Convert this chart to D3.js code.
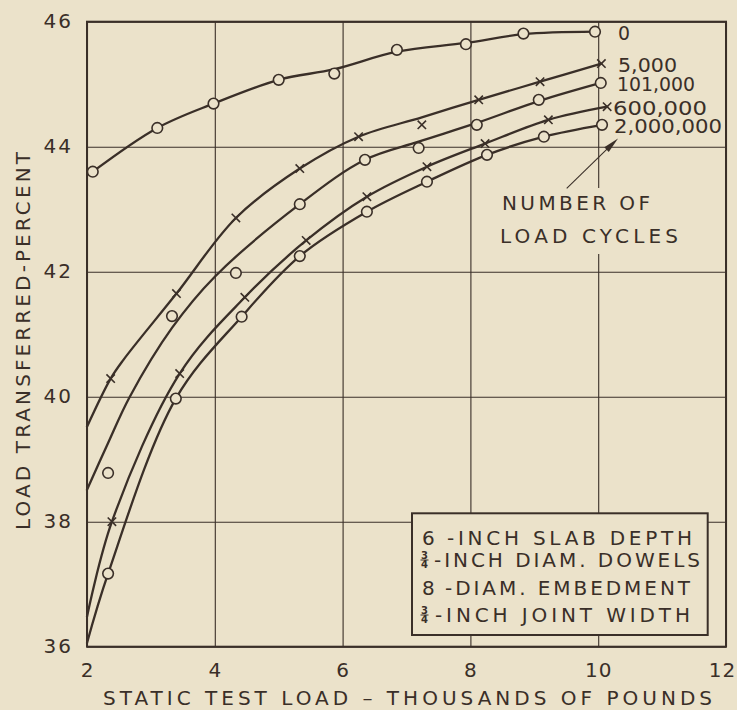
<!DOCTYPE html>
<html>
<head>
<meta charset="utf-8">
<script src="https://cdn.jsdelivr.net/npm/d3@7"></script>
<style>
  body { margin: 0; background: #ebe2ca; }
  svg { display: block; font-family: "DejaVu Sans", sans-serif; }
</style>
</head>
<body>
<script>
// Load transfer vs static test load, for each number of load cycles

var cycleLabels = ["0", "5,000", "101,000", "600,000", "2,000,000"];
var markerKinds = ["circle", "x", "circle", "x", "circle"];

// measured points (load in thousands of lb, percent transferred)
var loads0 = [2.09, 3.10, 3.98, 5.00, 5.87, 6.85, 7.93, 8.83, 9.95];
var pct0   = [43.60, 44.30, 44.69, 45.07, 45.17, 45.55, 45.64, 45.81, 45.84];
var loads1 = [2.37, 3.40, 4.33, 5.33, 6.25, 7.24, 8.13, 9.09, 10.05];
var pct1   = [40.29, 41.65, 42.86, 43.65, 44.16, 44.35, 44.75, 45.04, 45.33];
var loads2 = [2.33, 3.33, 4.33, 5.33, 6.35, 7.19, 8.10, 9.07, 10.04];
var pct2   = [38.78, 41.29, 41.98, 43.08, 43.79, 43.98, 44.35, 44.75, 45.02];
var loads3 = [2.39, 3.45, 4.47, 5.43, 6.38, 7.32, 8.23, 9.22, 10.14];
var pct3   = [38.00, 40.37, 41.59, 42.50, 43.20, 43.68, 44.05, 44.43, 44.64];
var loads4 = [2.33, 3.39, 4.42, 5.33, 6.38, 7.32, 8.26, 9.15, 10.06];
var pct4   = [37.17, 39.97, 41.28, 42.25, 42.96, 43.44, 43.87, 44.16, 44.35];

// faired curves as drawn on the sheet
var curveLoads0 = [2.09, 3.10, 3.98, 5.00, 5.87, 6.85, 7.93, 8.83, 9.95];
var curvePct0   = [43.60, 44.30, 44.69, 45.07, 45.24, 45.52, 45.66, 45.80, 45.84];
var curveLoads1 = [2.00, 2.37, 2.57, 3.40, 4.33, 5.33, 6.25, 7.24, 8.13, 9.09, 10.05];
var curvePct1   = [39.52, 40.29, 40.59, 41.65, 42.86, 43.65, 44.16, 44.47, 44.75, 45.04, 45.33];
var curveLoads2 = [2.00, 2.33, 2.67, 3.33, 4.00, 5.33, 6.35, 7.19, 8.10, 9.07, 10.04];
var curvePct2   = [38.51, 39.26, 40.00, 41.10, 41.92, 43.08, 43.79, 44.08, 44.38, 44.73, 45.02];
var curveLoads3 = [2.00, 2.39, 3.45, 4.47, 5.43, 6.38, 7.32, 8.23, 9.22, 10.14];
var curvePct3   = [36.48, 38.00, 40.37, 41.59, 42.50, 43.20, 43.68, 44.05, 44.43, 44.64];
var curveLoads4 = [2.00, 2.33, 3.39, 4.42, 5.33, 6.38, 7.32, 8.26, 9.15, 10.06];
var curvePct4   = [36.06, 37.17, 39.97, 41.28, 42.25, 42.96, 43.44, 43.87, 44.16, 44.35];

var xTicks = [2, 4, 6, 8, 10, 12];
var yTicks = [36, 38, 40, 42, 44, 46];

var legendLead = ["6", "3/4", "8", "3/4"];
var legendText = ["-INCH SLAB DEPTH", "-INCH DIAM. DOWELS", "-DIAM. EMBEDMENT", "-INCH JOINT WIDTH"];

var ink = "#3a2f28", paper = "#ebe2ca";

var svg = d3.select("body").append("svg")
  .attr("width", 737)
  .attr("height", 710);

svg.append("rect").attr("width", 737).attr("height", 710).attr("fill", paper);

var x = d3.scaleLinear().domain([2, 12]).range([87, 726]);
var y = d3.scaleLinear().domain([36, 46]).range([646.7, 21.7]);

// grid + tick labels
var gx = svg.append("g")
  .attr("transform", "translate(0," + y(36) + ")")
  .call(d3.axisBottom(x).tickValues(xTicks).tickSize(-(y(36) - y(46))).tickPadding(16));
var gy = svg.append("g")
  .attr("transform", "translate(" + x(2) + ",0)")
  .call(d3.axisLeft(y).tickValues(yTicks).tickSize(-(x(12) - x(2))).tickPadding(14));

[gx, gy].forEach(function(g) {
  g.select(".domain").remove();
  g.selectAll(".tick line").attr("stroke", ink).attr("stroke-width", 1.1);
  g.selectAll(".tick text")
    .attr("fill", ink)
    .style("font-family", "DejaVu Sans")
    .style("font-size", "20px")
    .style("letter-spacing", "2px");
});
gy.selectAll(".tick text").attr("dy", "0.28em");
gx.selectAll(".tick text")
  .style("letter-spacing", "1px")
  .attr("dx", function(d) { return d == 12 ? -4 : 0; });

// knock out the 10 grid line behind the note
svg.append("rect")
  .attr("x", 495).attr("y", 188).attr("width", 190).attr("height", 66)
  .attr("fill", paper);

// curves and points
var allLoads = [loads0, loads1, loads2, loads3, loads4];
var allPct = [pct0, pct1, pct2, pct3, pct4];
var allCurveLoads = [curveLoads0, curveLoads1, curveLoads2, curveLoads3, curveLoads4];
var allCurvePct = [curvePct0, curvePct1, curvePct2, curvePct3, curvePct4];

var series = cycleLabels.map(function(label, i) {
  return {
    label: label,
    kind: markerKinds[i],
    points: d3.zip(allLoads[i], allPct[i]),
    curve: d3.zip(allCurveLoads[i], allCurvePct[i])
  };
});

var line = d3.line()
  .x(function(d) { return x(d[0]); })
  .y(function(d) { return y(d[1]); })
  .curve(d3.curveCatmullRom.alpha(0.5));

series.forEach(function(s) {
  svg.append("path")
    .datum(s.curve)
    .attr("fill", "none")
    .attr("stroke", ink)
    .attr("stroke-width", 2.3)
    .attr("stroke-linecap", "round")
    .attr("d", line);
});

series.forEach(function(s) {
  var g = svg.append("g");
  if (s.kind == "circle") {
    g.selectAll("circle")
      .data(s.points)
      .enter()
      .append("circle")
      .attr("cx", function(d) { return x(d[0]); })
      .attr("cy", function(d) { return y(d[1]); })
      .attr("r", 5.3)
      .attr("fill", paper)
      .attr("stroke", ink)
      .attr("stroke-width", 1.6);
  } else {
    g.selectAll("path")
      .data(s.points)
      .enter()
      .append("path")
      .attr("d", function(d) {
        var cx = x(d[0]), cy = y(d[1]), r = 4.2;
        return "M" + (cx - r) + "," + (cy - r) + "L" + (cx + r) + "," + (cy + r) +
               "M" + (cx - r) + "," + (cy + r) + "L" + (cx + r) + "," + (cy - r);
      })
      .attr("stroke", ink)
      .attr("stroke-width", 1.6);
  }
});

// frame
svg.append("rect")
  .attr("x", x(2)).attr("y", y(46))
  .attr("width", x(12) - x(2)).attr("height", y(36) - y(46))
  .attr("fill", "none")
  .attr("stroke", ink)
  .attr("stroke-width", 2);

// curve labels at right
var labelX = [618, 618, 617, 613, 614];
var labelLen = [12, 59, 78, 94, 108];
series.forEach(function(s, i) {
  var last = s.points[s.points.length - 1];
  svg.append("text")
    .attr("x", labelX[i])
    .attr("y", y(last[1]) + 8)
    .attr("fill", ink)
    .attr("textLength", labelLen[i])
    .attr("lengthAdjust", "spacingAndGlyphs")
    .style("font-size", "19px")
    .text(s.label);
});

// note + arrow
svg.append("text").attr("x", 502).attr("y", 210).attr("fill", ink)
  .attr("textLength", 148).style("font-size", "20px").text("NUMBER OF");
svg.append("text").attr("x", 500).attr("y", 243).attr("fill", ink)
  .attr("textLength", 178).style("font-size", "20px").text("LOAD CYCLES");

var ax0 = 566.7, ay0 = 188.3, ax1 = 618, ay1 = 138.5;
var ang = Math.atan2(ay1 - ay0, ax1 - ax0);
svg.append("line")
  .attr("x1", ax0).attr("y1", ay0).attr("x2", ax1 - 10 * Math.cos(ang)).attr("y2", ay1 - 10 * Math.sin(ang))
  .attr("stroke", ink).attr("stroke-width", 1.1);
var hl = 16, hw = 3.2;
var bx = ax1 - hl * Math.cos(ang), by = ay1 - hl * Math.sin(ang);
svg.append("path")
  .attr("d", "M" + ax1 + "," + ay1 +
    "L" + (bx + hw * Math.sin(ang)) + "," + (by - hw * Math.cos(ang)) +
    "L" + (bx - hw * Math.sin(ang)) + "," + (by + hw * Math.cos(ang)) + "Z")
  .attr("fill", ink);

// axis titles
svg.append("text")
  .attr("x", 407.5).attr("y", 705)
  .attr("text-anchor", "middle")
  .attr("textLength", 609)
  .attr("fill", ink)
  .style("font-size", "20px")
  .text("STATIC TEST LOAD – THOUSANDS OF POUNDS");

svg.append("text")
  .attr("transform", "translate(30,341) rotate(-90)")
  .attr("text-anchor", "middle")
  .attr("textLength", 378)
  .attr("fill", ink)
  .style("font-size", "20px")
  .text("LOAD TRANSFERRED-PERCENT");

// conditions box
svg.append("rect")
  .attr("x", 412).attr("y", 513.3).attr("width", 295.7).attr("height", 121.7)
  .attr("fill", paper).attr("stroke", ink).attr("stroke-width", 2);

var legBase = [545, 567, 595, 622];
var legStart = [447, 434, 445, 435];
var legEnd = [692, 700, 690, 690];
legendText.forEach(function(t, i) {
  if (legendLead[i] == "3/4") {
    var parts = legendLead[i].split("/");
    svg.append("text").attr("x", 424.5).attr("y", legBase[i] - 8.5)
      .attr("text-anchor", "middle").attr("fill", ink)
      .style("font-size", "10px").style("font-weight", "bold").text(parts[0]);
    svg.append("line").attr("x1", 420.5).attr("x2", 428.5)
      .attr("y1", legBase[i] - 7).attr("y2", legBase[i] - 7)
      .attr("stroke", ink).attr("stroke-width", 1);
    svg.append("text").attr("x", 424.5).attr("y", legBase[i] + 1)
      .attr("text-anchor", "middle").attr("fill", ink)
      .style("font-size", "10px").style("font-weight", "bold").text(parts[1]);
  } else {
    svg.append("text").attr("x", 422).attr("y", legBase[i])
      .attr("fill", ink).style("font-size", "20px").text(legendLead[i]);
  }
  svg.append("text")
    .attr("x", legStart[i]).attr("y", legBase[i])
    .attr("textLength", legEnd[i] - legStart[i])
    .attr("fill", ink)
    .style("font-size", "20px")
    .text(t);
});
</script>
</body>
</html>
